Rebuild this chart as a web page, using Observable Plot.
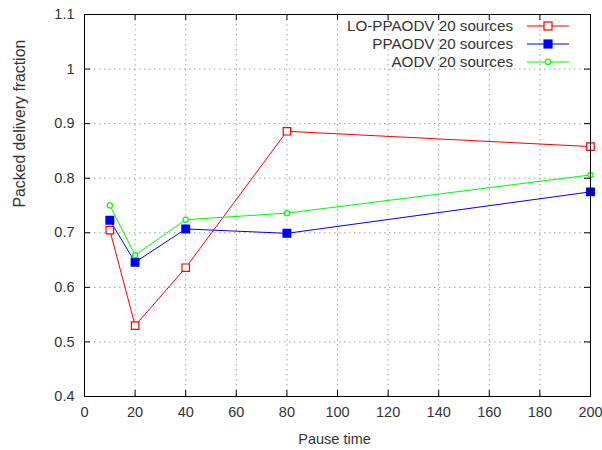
<!DOCTYPE html>
<html><head><meta charset="utf-8">
<script src="https://cdn.jsdelivr.net/npm/d3@7"></script>
<script src="https://cdn.jsdelivr.net/npm/@observablehq/plot@0.6"></script>
<style>body{margin:0;background:#fff;font-family:"Liberation Sans",Arial,sans-serif;}#chart{position:relative;width:602px;height:450px;}</style>
</head><body><div id="chart"></div>
<script>
const pauseTimes = [10, 20, 40, 80, 200];
const loPpaodv = [0.705, 0.530, 0.636, 0.886, 0.858];
const ppaodv = [0.723, 0.646, 0.707, 0.699, 0.775];
const aodv = [0.750, 0.659, 0.724, 0.736, 0.806];
const seriesNames = ["LO-PPAODV 20 sources", "PPAODV 20 sources", "AODV 20 sources"];
const seriesColors = ["#ff0000", "#0000ff", "#00ff00"];
const xTicks = [0, 20, 40, 60, 80, 100, 120, 140, 160, 180, 200];
const yTicks = [0.4, 0.5, 0.6, 0.7, 0.8, 0.9, 1.0, 1.1];

const W = 602, H = 450, mL = 84, mR = 12, mT = 14, mB = 54;
const innerH = H - mT - mB, innerW = W - mL - mR;
const mk = (vals, s) => pauseTimes.map((x, i) => ({x, y: vals[i], s}));
const red = mk(loPpaodv, 0), blue = mk(ppaodv, 1), green = mk(aodv, 2);
const fmtY = d => String(+d.toFixed(1));

const plot = Plot.plot({
  width: W, height: H,
  marginLeft: mL, marginRight: mR, marginTop: mT, marginBottom: mB,
  style: {fontFamily: "'Liberation Sans', Arial, sans-serif", fontSize: "14.5px", background: "#fff", color: "#000"},
  x: {domain: [0, 200]},
  y: {domain: [0.4, 1.1]},
  marks: [
    Plot.gridX(xTicks, {stroke: "#a0a0a0", strokeOpacity: 1, strokeDasharray: "1.5,3.5", strokeWidth: 1}),
    Plot.gridY(yTicks, {stroke: "#a0a0a0", strokeOpacity: 1, strokeDasharray: "1.5,3.5", strokeWidth: 1}),
    Plot.tickX(xTicks, {x: d => d, insetTop: innerH - 6, stroke: "#000"}),
    Plot.tickX(xTicks, {x: d => d, insetBottom: innerH - 6, stroke: "#000"}),
    Plot.tickY(yTicks, {y: d => d, insetRight: innerW - 6, stroke: "#000"}),
    Plot.tickY(yTicks, {y: d => d, insetLeft: innerW - 6, stroke: "#000"}),
    Plot.axisX(xTicks, {tickSize: 0, tickPadding: 10, fontSize: 14.5, fill: "#333", label: null}),
    Plot.axisY(yTicks, {tickSize: 0, tickPadding: 10, fontSize: 14.5, fill: "#333", label: null, tickFormat: fmtY}),
    Plot.text(["Pause time"], {frameAnchor: "bottom", dx: -3, dy: 47, fontSize: 14.5, fill: "#333"}),
    Plot.text(["Packed delivery fraction"], {frameAnchor: "left", dx: -65, dy: 2, rotate: -90, fontSize: 15.8, fill: "#333"}),
    Plot.line(red, {x: "x", y: "y", stroke: seriesColors[0], strokeWidth: 1}),
    Plot.line(blue, {x: "x", y: "y", stroke: seriesColors[1], strokeWidth: 1}),
    Plot.line(green, {x: "x", y: "y", stroke: seriesColors[2], strokeWidth: 1}),
    Plot.dot(red, {x: "x", y: "y", symbol: "square", r: 4.2, stroke: seriesColors[0], fill: "#fff", strokeWidth: 1.2}),
    Plot.dot(blue, {x: "x", y: "y", symbol: "square", r: 4.2, fill: seriesColors[1], stroke: seriesColors[1]}),
    Plot.dot(green, {x: "x", y: "y", r: 2.6, stroke: seriesColors[2], fill: "#fff", strokeWidth: 1.2}),
    Plot.frame({stroke: "#000", strokeWidth: 1})
  ]
});
document.getElementById("chart").appendChild(plot);

// legend (inside plot, top right)
const svg = d3.select(plot);
const syms = ["squareOpen", "square", "circle"];
const lg = svg.append("g").attr("font-family", "'Liberation Sans', Arial, sans-serif").attr("font-size", 15.2);
seriesNames.forEach((name, i) => {
  const y = 26 + i * 18;
  lg.append("text").attr("x", 513).attr("y", y).attr("dy", "0.35em").attr("text-anchor", "end").attr("fill", "#333").text(name);
  lg.append("line").attr("x1", 527).attr("x2", 569).attr("y1", y).attr("y2", y).attr("stroke", seriesColors[i]);
  if (syms[i] === "circle") {
    lg.append("circle").attr("cx", 548).attr("cy", y).attr("r", 2.6).attr("fill", "#fff").attr("stroke", seriesColors[i]).attr("stroke-width", 1.2);
  } else {
    lg.append("rect").attr("x", 544).attr("y", y - 4).attr("width", 8).attr("height", 8)
      .attr("fill", syms[i] === "square" ? seriesColors[i] : "#fff").attr("stroke", seriesColors[i]).attr("stroke-width", 1.2);
  }
});
</script></body></html>
